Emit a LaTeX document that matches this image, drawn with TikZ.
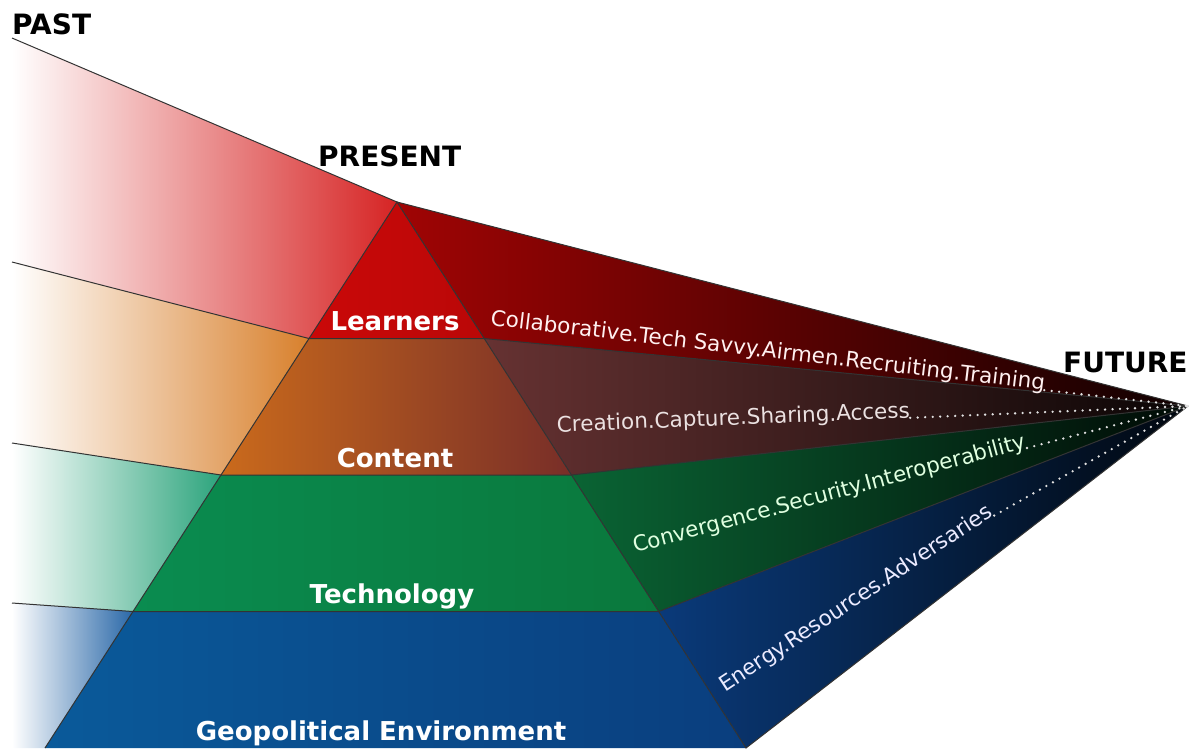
\documentclass[tikz,border=0pt]{standalone}
\usepackage{fontspec}
\setmainfont{DejaVu Sans}
\usetikzlibrary{calc}

\definecolor{pastred}{HTML}{D62424}
\definecolor{pastorange}{HTML}{D8802C}
\definecolor{pastgreen}{HTML}{2CA47C}
\definecolor{pastblue}{HTML}{2A68A8}
\definecolor{learnred}{HTML}{CA0808}
\definecolor{contleft}{HTML}{CA6A1C}
\definecolor{contright}{HTML}{782E28}
\definecolor{techleft}{HTML}{0A8C50}
\definecolor{techright}{HTML}{0A783C}
\definecolor{geoleft}{HTML}{0A5A9A}
\definecolor{georight}{HTML}{0A3E7E}
\definecolor{futred}{HTML}{A00404}
\definecolor{futbrown}{HTML}{663232}
\definecolor{futgreen}{HTML}{0A6434}
\definecolor{futblue}{HTML}{0A3A7A}

\begin{document}
\begin{tikzpicture}[x=1pt,y=-1pt,
    edge/.style={draw=black!80, line width=1pt},
    era/.style={font=\bfseries\fontsize{28}{28}\selectfont, anchor=base west, inner sep=0pt},
    tier/.style={font=\bfseries\fontsize{26}{26}\selectfont, text=white, anchor=base, inner sep=0pt},
    trend/.style={font=\fontsize{21.5}{21.5}\selectfont, anchor=base west, inner sep=0pt},
    dots/.style={draw=white!88!black, line width=2.6pt, line cap=round, dash pattern=on 0pt off 7.5pt}]

\useasboundingbox (0,0) rectangle (1198,748);

% corners
\coordinate (past) at (12,38);
\coordinate (apex) at (397,202);
\coordinate (future) at (1188,406);
\coordinate (l4) at (45,748);
\coordinate (r4) at (746,748);
\foreach \i/\f in {1/0.25,2/0.5,3/0.75} {
  \coordinate (l\i) at ($(apex)!\f!(l4)$);
  \coordinate (r\i) at ($(apex)!\f!(r4)$);
}
\coordinate (e1) at (12,262);
\coordinate (e2) at (12,443);
\coordinate (e3) at (12,603);
\coordinate (e4) at (12,748);

% fading in from the past
\shade[left color=white, right color=pastred] (past) -- (apex) -- (l1) -- (e1) -- cycle;
\shade[left color=white, right color=pastorange] (e1) -- (l1) -- (l2) -- (e2) -- cycle;
\shade[left color=white, right color=pastgreen] (e2) -- (l2) -- (l3) -- (e3) -- cycle;
\shade[left color=white, right color=pastblue] (e3) -- (l3) -- (l4) -- (e4) -- cycle;

% the pyramid
\shade[left color=learnred, right color=learnred!92!black] (apex) -- (r1) -- (l1) -- cycle;
\shade[left color=contleft, right color=contright] (l1) -- (r1) -- (r2) -- (l2) -- cycle;
\shade[left color=techleft, right color=techright] (l2) -- (r2) -- (r3) -- (l3) -- cycle;
\shade[left color=geoleft, right color=georight] (l3) -- (r3) -- (r4) -- (l4) -- cycle;

% towards the future
\shade[left color=futred, right color=futred!10!black] (apex) -- (future) -- (r1) -- cycle;
\shade[left color=futbrown, right color=futbrown!10!black] (r1) -- (future) -- (r2) -- cycle;
\shade[left color=futgreen, right color=futgreen!10!black] (r2) -- (future) -- (r3) -- cycle;
\shade[left color=futblue, right color=futblue!12!black] (r3) -- (future) -- (r4) -- cycle;

% borders
\draw[edge] (past) -- (apex) -- (future);
\draw[edge] (e1) -- (l1) (e2) -- (l2) (e3) -- (l3);
\draw[edge] (l4) -- (apex) -- (r4) -- (future);
\draw[edge] (l1) -- (r1) -- (future) (l2) -- (r2) -- (future) (l3) -- (r3) -- (future);

% time labels
\node[era] (pastlbl) at (12,34) {PAST};
\node[era] (presentlbl) at (318,166) {PRESENT};
\node[era] (futurelbl) at (1063,372) {FUTURE};

% tiers
\node[tier] (learners) at (395,330) {Learners};
\node[tier] (content) at (395,467) {Content};
\node[tier] (technology) at (392,603) {Technology};
\node[tier] (geo) at (381,740) {Geopolitical Environment};

% trends
\node[trend, text=red!6!white, rotate=-6.7] (learntrend) at (490,325) {Collaborative.Tech Savvy.Airmen.Recruiting.Training};
\node[trend, text=red!4!white!92!black, rotate=2.3] (conttrend) at (557,432) {Creation.Capture.Sharing.Access};
\node[trend, text=green!12!white, rotate=15] (techtrend) at (635,553) {Convergence.Security.Interoperability};
\node[trend, text=blue!8!white, rotate=33.4] (geotrend) at (725,693) {Energy.Resources.Adversaries};

\draw[dots] (learntrend.base east) -- (future);
\draw[dots] (conttrend.base east) -- (future);
\draw[dots] (techtrend.base east) -- (future);
\draw[dots] (geotrend.base east) -- (future);

\end{tikzpicture}
\end{document}
